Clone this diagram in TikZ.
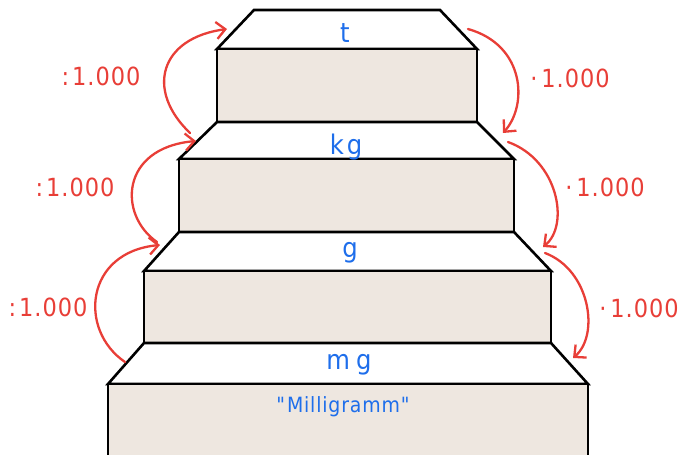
\documentclass[tikz,border=0pt]{standalone}
\usepackage{fontspec}
\setmainfont{DejaVu Sans}
\newfontfamily\handfont[LetterSpace=4]{DejaVu Sans Condensed}
\usetikzlibrary{arrows.meta}
\definecolor{stepfill}{RGB}{238,231,224}
\definecolor{unitblue}{RGB}{30,110,235}
\definecolor{arrowred}{RGB}{232,62,55}

\begin{document}
\begin{tikzpicture}[x=1pt,y=-1pt,>={Straight Barb[length=9pt,width=17pt]},
  tiertop/.style={fill=white,draw=black,line width=2.6pt},
  tierfront/.style={fill=stepfill,draw=black,line width=2.6pt},
  unitlabel/.style={text=unitblue,font=\handfont\fontsize{27}{30}\selectfont,inner sep=0pt,anchor=base},
  factorlabel/.style={text=arrowred,font=\handfont\fontsize{25}{28}\selectfont,inner sep=0pt,anchor=base},
  convarrow/.style={->,draw=arrowred,line width=2.3pt,line cap=round}]
\useasboundingbox (0,0) rectangle (680,455);
\clip (0,0) rectangle (680,455);
% staircase, top tier first
\foreach \ya/\yb/\yc/\xa/\xb/\xc/\xd in {10/49/122/254/440/217/477,122/159/232/217/477/179/514,232/271/343/179/514/144/551,343/384/470/144/551/108/588}{
  \draw[tiertop] (\xa,\ya)--(\xb,\ya)--(\xd,\yb)--(\xc,\yb)--cycle;
  \draw[tierfront] (\xc,\yb) rectangle (\xd,\yc);}
% units
\node[unitlabel] (unitT) at (345,42) {t};
\node[unitlabel] (unitKg) at (346,154) {k\kern3pt g};
\node[unitlabel] (unitG) at (350,257) {g};
\node[unitlabel] (unitMg) at (349,369) {m\kern6pt g};
\node[unitlabel,font=\handfont\fontsize{21}{24}\selectfont] (unitName) at (343,412) {\char"0022\kern2pt Milligramm\kern1pt\char"0022};
% arrow ends on the bevels
\coordinate (tL) at (227,29);\coordinate (kgLa) at (190,133);\coordinate (kgLb) at (196,141);
\coordinate (gLa) at (157,242);\coordinate (gLb) at (160,245);\coordinate (mgL) at (125,362);
\coordinate (tR) at (468,29);\coordinate (kgRa) at (503,133);\coordinate (kgRb) at (508,142);
\coordinate (gRa) at (543,247);\coordinate (gRb) at (545,253);\coordinate (mgR) at (573,358);
% dividing upwards
\draw[convarrow] (kgLa) .. controls (145,90) and (160,38) .. (tL);
\draw[convarrow] (gLa) .. controls (118,215) and (120,148) .. (kgLb);
\draw[convarrow] (mgL) .. controls (78,330) and (85,252) .. (gLb);
\node[factorlabel] (divT) at (101,85) {:\kern3pt1.000};
\node[factorlabel] (divKg) at (75,196) {:\kern3pt1.000};
\node[factorlabel] (divG) at (48,316) {:\kern3pt1.000};
% multiplying downwards
\draw[convarrow] (tR) .. controls (525,45) and (528,105) .. (kgRa);
\draw[convarrow] (kgRb) .. controls (558,160) and (570,225) .. (gRa);
\draw[convarrow] (gRb) .. controls (590,270) and (600,335) .. (mgR);
\node[factorlabel] (mulKg) at (570,87) {·\kern4pt1.000};
\node[factorlabel] (mulG) at (605,196) {·\kern4pt1.000};
\node[factorlabel] (mulMg) at (639,317) {·\kern4pt1.000};
\end{tikzpicture}
\end{document}
